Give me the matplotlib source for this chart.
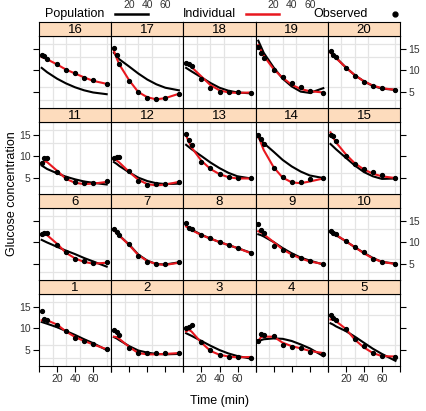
import numpy as np
import matplotlib.pyplot as plt
from matplotlib.lines import Line2D

plt.rcParams['font.family'] = ['Liberation Sans', 'DejaVu Sans']

# sampling times (min) and subject ids
times = [3, 6, 9, 20, 30, 40, 50, 60, 75]
subjects = list(range(1, 21))

# observed glucose, one list per subject
observed = [
    [13.9, 12.2, 11.8, 10.8, 9.3, 7.7, 6.9, 6.2, 5.2],
    [9.6, 9.2, 8.5, 5.4, 4.2, 4.2, 4.1, 4.1, 4.3],
    [9.9, 10.3, 10.6, 6.7, 5.0, 3.8, 3.4, 3.3, 3.1],
    [7.0, 8.6, 8.3, 8.1, 6.1, 5.5, 5.3, 4.5, 3.9],
    [13.0, 12.3, 11.9, 9.8, 7.4, 5.8, 4.1, 3.5, 3.3],
    [11.8, 12.2, 12.1, 9.4, 7.6, 6.1, 5.6, 5.2, 5.3],
    [13.1, 12.3, 11.7, 9.5, 6.8, 5.3, 5.0, 4.9, 5.3],
    [14.4, 13.3, 13.0, 11.7, 10.9, 10.1, 9.4, 8.7, 7.4],
    [14.2, 12.9, 12.0, 9.2, 8.2, 7.0, 6.3, 5.5, 5.0],
    [12.6, 12.2, 11.8, 10.2, 8.9, 7.6, 6.1, 5.3, 5.0],
    [8.5, 9.6, 9.6, 6.4, 4.9, 3.9, 3.8, 3.7, 4.2],
    [9.6, 9.7, 9.7, 6.5, 4.3, 3.4, 3.5, 3.6, 3.9],
    [15.2, 13.8, 12.6, 8.7, 7.3, 5.8, 5.1, 4.9, 4.8],
    [14.8, 14.0, 12.8, 7.2, 5.1, 3.9, 3.9, 4.7, 4.8],
    [14.9, 14.6, 13.5, 10.0, 8.1, 7.1, 6.2, 5.6, 4.9],
    [13.5, 13.2, 12.6, 11.4, 10.0, 9.3, 8.2, 7.6, 6.8],
    [15.2, 13.5, 11.3, 7.5, 4.8, 3.6, 3.2, 3.6, 4.5],
    [11.6, 11.5, 11.0, 8.0, 5.8, 5.0, 4.9, 4.8, 4.7],
    [15.3, 14.0, 12.8, 10.0, 8.5, 7.0, 6.1, 5.2, 4.7],
    [14.4, 13.6, 13.0, 10.4, 8.7, 7.3, 6.4, 5.8, 5.4],
]

# individual fit (red)
individual = [
    [11.8, 12.0, 11.8, 10.8, 9.2, 7.9, 7.0, 6.2, 5.1],
    [8.0, 7.9, 7.5, 5.6, 4.2, 3.9, 3.9, 4.0, 4.2],
    [9.2, 9.6, 9.2, 6.6, 4.7, 3.8, 3.4, 3.2, 3.3],
    [7.0, 7.9, 8.0, 8.0, 6.6, 5.8, 5.3, 4.7, 4.2],
    [12.0, 12.0, 11.6, 9.8, 7.3, 5.5, 4.2, 3.5, 3.4],
    [11.5, 12.0, 11.6, 9.6, 7.5, 6.2, 5.4, 5.0, 5.2],
    [12.8, 12.1, 11.5, 9.3, 7.0, 5.6, 4.9, 4.7, 5.2],
    [13.6, 13.2, 12.8, 11.6, 10.8, 10.0, 9.3, 8.6, 7.4],
    [12.5, 12.2, 11.8, 10.0, 8.3, 7.1, 6.2, 5.5, 4.9],
    [12.5, 12.1, 11.7, 10.2, 8.8, 7.4, 6.2, 5.4, 4.9],
    [8.2, 8.8, 8.6, 6.6, 4.7, 3.8, 3.5, 3.6, 4.0],
    [9.2, 9.0, 8.5, 6.3, 4.5, 3.5, 3.2, 3.4, 4.0],
    [14.8, 13.3, 12.0, 8.9, 7.0, 5.8, 5.1, 4.8, 4.8],
    [14.8, 13.0, 11.4, 7.4, 5.0, 3.9, 3.7, 4.1, 4.8],
    [15.5, 14.3, 13.2, 10.4, 8.3, 6.9, 5.9, 5.3, 4.9],
    [13.0, 12.8, 12.5, 11.3, 10.1, 9.2, 8.3, 7.5, 6.8],
    [14.5, 12.8, 11.3, 7.6, 4.9, 3.7, 3.2, 3.5, 4.5],
    [11.5, 11.2, 10.7, 8.5, 6.5, 5.3, 4.8, 4.7, 4.8],
    [15.8, 14.5, 13.3, 10.2, 8.2, 6.6, 5.6, 5.1, 4.8],
    [14.0, 13.4, 12.8, 10.6, 8.8, 7.4, 6.4, 5.8, 5.4],
]

# population fit (black)
population = [
    [11.4, 11.2, 11.0, 10.2, 9.3, 8.4, 7.4, 6.5, 4.9],
    [7.9, 7.6, 7.2, 5.8, 4.8, 4.3, 4.0, 3.9, 4.0],
    [8.8, 8.5, 8.2, 7.0, 5.9, 4.9, 4.1, 3.5, 2.9],
    [7.0, 7.2, 7.4, 7.6, 7.5, 7.0, 6.2, 5.3, 3.5],
    [11.1, 10.8, 10.4, 9.3, 8.0, 6.6, 5.2, 4.0, 2.4],
    [10.5, 10.2, 9.9, 8.9, 8.0, 7.2, 6.3, 5.5, 4.3],
    [12.9, 12.2, 11.5, 9.4, 7.1, 5.7, 4.9, 4.8, 5.3],
    [13.8, 13.3, 12.9, 11.7, 10.8, 10.0, 9.3, 8.6, 7.5],
    [11.8, 11.6, 11.3, 10.0, 8.6, 7.4, 6.4, 5.7, 4.8],
    [12.4, 12.0, 11.6, 10.2, 8.8, 7.5, 6.3, 5.4, 5.0],
    [7.8, 7.4, 7.0, 6.0, 5.2, 4.6, 4.1, 3.8, 3.4],
    [8.6, 8.2, 7.7, 6.2, 5.0, 4.2, 3.7, 3.5, 3.6],
    [12.6, 12.1, 11.6, 10.0, 8.5, 7.2, 6.1, 5.3, 4.8],
    [14.3, 13.6, 13.0, 11.0, 9.1, 7.6, 6.4, 5.5, 4.9],
    [12.8, 12.2, 11.6, 9.6, 7.8, 6.3, 5.3, 4.7, 4.8],
    [10.5, 10.0, 9.5, 8.0, 6.9, 6.0, 5.3, 4.8, 4.4],
    [14.0, 13.2, 12.5, 10.8, 9.2, 7.8, 6.7, 5.9, 5.3],
    [10.5, 10.1, 9.7, 8.3, 7.0, 5.9, 5.2, 4.8, 4.6],
    [16.8, 15.4, 14.0, 10.6, 8.0, 6.2, 5.0, 4.7, 5.8],
    [14.2, 13.5, 12.9, 10.6, 8.8, 7.4, 6.3, 5.7, 5.4],
]

xticks = [0, 20, 40, 60, 80]
xticklabels = ['', '20', '40', '60', '']
yticks = [5, 10, 15]
xgrid = [15, 30, 45, 60, 75]
ygrid = [3, 6, 10, 13, 16]

W, H = 426, 411
fig = plt.figure(figsize=(W / 100, H / 100), dpi=100)

left, right, top, bottom = 39, 400, 22, 366
cw = (right - left) / 5
rh = (bottom - top) / 4
sh = 14
strip_col = '#fddcbd'
red = '#e8181f'


def box(x, y, w, h):
    return [x / W, 1 - (y + h) / H, w / W, h / H]


for i, s in enumerate(subjects):
    r = 3 - i // 5
    c = i % 5
    x0 = left + c * cw
    y0 = top + r * rh

    ax = fig.add_axes(box(x0, y0 + sh, cw, rh - sh))
    ax.set_xlim(0, 80)
    ax.set_ylim(1.2, 17.9)
    ax.set_xticks(xgrid, minor=True)
    ax.set_yticks(ygrid, minor=True)
    ax.grid(which='minor', color='#e4e4e4', lw=0.9)
    ax.set_axisbelow(True)
    ax.plot(times, population[i], color='black', lw=1.5, zorder=3)
    ax.plot(times, individual[i], color=red, lw=1.5, zorder=4)
    ax.plot(times, observed[i], 'o', color='black', ms=2.8, zorder=5)

    ax.set_xticks(xticks)
    ax.set_xticklabels(xticklabels)
    ax.set_yticks(yticks)
    ax.tick_params(which='minor', length=0)
    ax.tick_params(which='major', direction='out', length=4, width=0.8,
                   labelsize=7.5, labelcolor='#333333', pad=2,
                   bottom=(r == 3), labelbottom=(r == 3 and c in (0, 2, 4)),
                   top=False, labeltop=False,
                   left=(c == 0), labelleft=(c == 0 and r in (1, 3)),
                   right=(c == 4), labelright=(c == 4 and r in (0, 2)))
    for sp in ax.spines.values():
        sp.set_linewidth(0.8)

    sax = fig.add_axes(box(x0, y0, cw, sh))
    sax.set_facecolor(strip_col)
    sax.set_xlim(0, 80)
    sax.set_yticks([])
    if r == 0 and c in (1, 3):
        sax.xaxis.set_ticks_position('top')
        sax.set_xticks([20, 40, 60])
        sax.tick_params(axis='x', length=0, pad=8.5, labelsize=7.5,
                        labelcolor='#333333')
    else:
        sax.set_xticks([])
    for sp in sax.spines.values():
        sp.set_linewidth(0.8)
    sax.text(0.5, 0.45, str(s), transform=sax.transAxes, ha='center',
             va='center', fontsize=9.5)

# key on top
ky = 1 - 14 / H
fig.text(45 / W, ky, 'Population', fontsize=9, va='center')
fig.add_artist(Line2D([115 / W, 148 / W], [ky, ky], color='black', lw=1.8))
fig.text(183 / W, ky, 'Individual', fontsize=9, va='center')
fig.add_artist(Line2D([246 / W, 279 / W], [ky, ky], color=red, lw=1.8))
fig.text(313 / W, ky, 'Observed', fontsize=9, va='center')
fig.add_artist(Line2D([395 / W], [ky], marker='o', color='black', ms=3.5))

fig.text(12 / W, 1 - 194 / H, 'Glucose concentration', rotation=90,
         ha='center', va='center', fontsize=9)
fig.text(219 / W, 1 - 401 / H, 'Time (min)', ha='center', va='center',
         fontsize=9)

fig.savefig('out.png', dpi=100)
